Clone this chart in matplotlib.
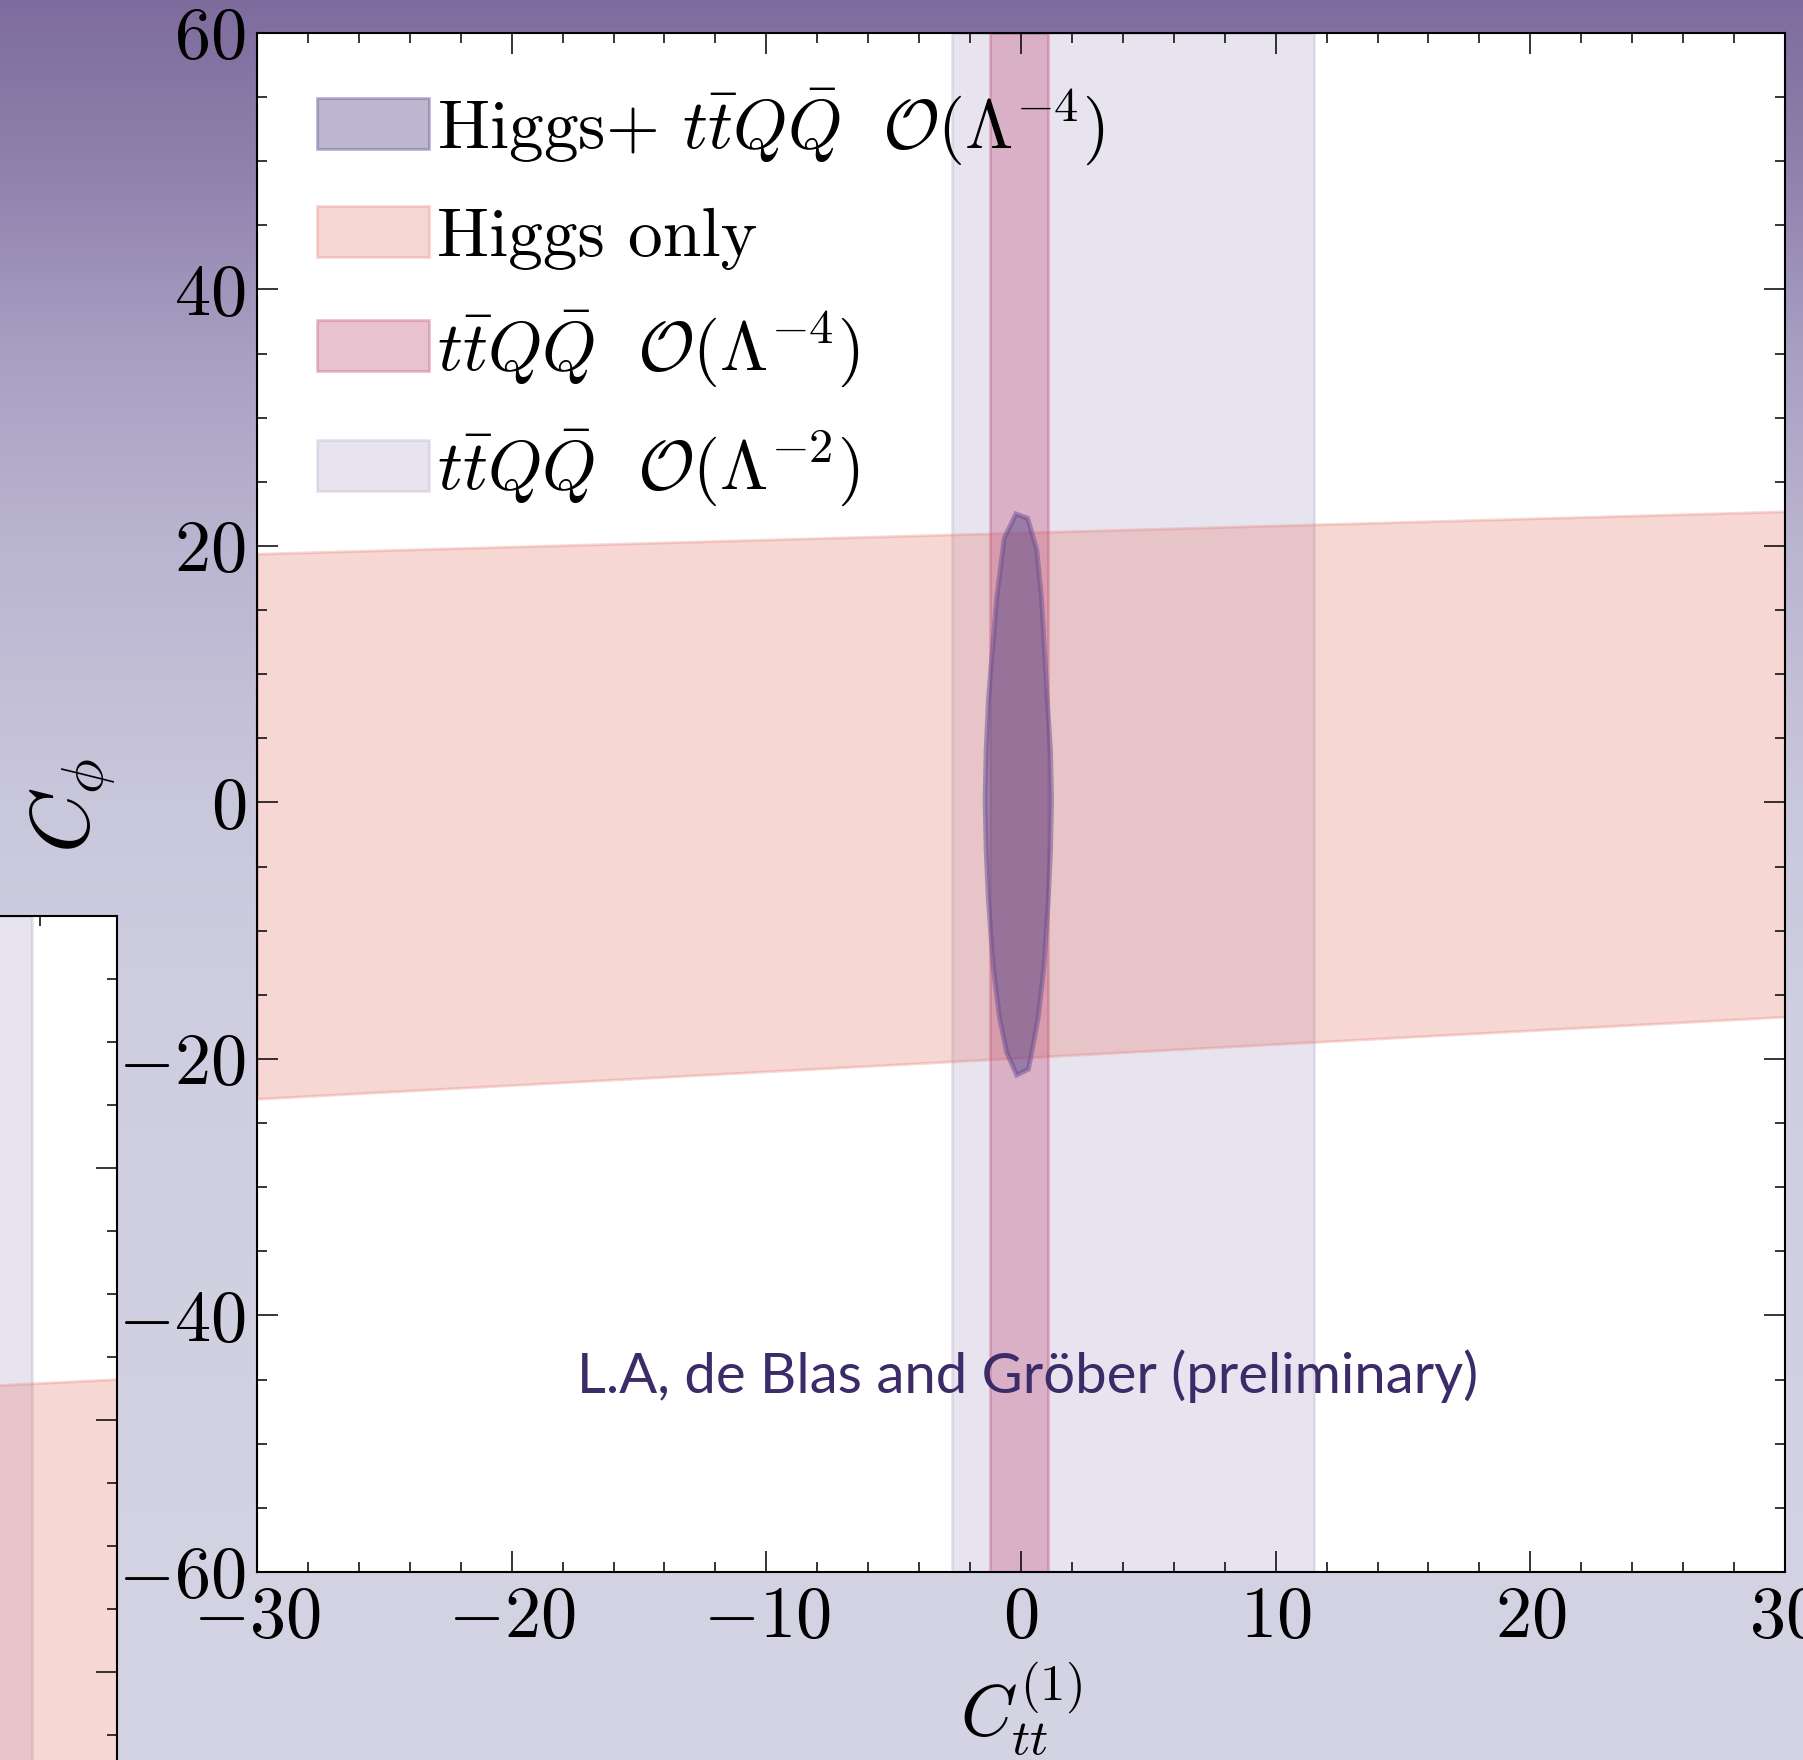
import numpy as np
import matplotlib
matplotlib.use("Agg")
import matplotlib.pyplot as plt
from matplotlib.patches import Patch, Polygon
from matplotlib.ticker import MultipleLocator, FuncFormatter, FixedLocator

plt.rcParams["font.family"] = "serif"
plt.rcParams["font.serif"] = ["cmr10"]
plt.rcParams["mathtext.fontset"] = "cm"
plt.rcParams["axes.unicode_minus"] = False

# band edges
band_x = [-30, 30]
higgs_upper = [19.4, 22.7]
higgs_lower = [-23.1, -16.7]
tt4_range = [-1.2, 1.05]     # ttQQ O(Lambda^-4)
tt2_range = [-2.7, 11.5]     # ttQQ O(Lambda^-2)

# the panel that peeks in at the bottom left of the slide
inset_higgs_upper = [22.15, 23.25]
inset_higgs_lower = [-21.0, -18.0]
inset_tt2_range = [-2.7, 11.5]

# combined fit contour (Higgs + ttQQ)
combo_x = [-0.20, 0.26, 0.62, 0.81, 1.03, 1.16, 1.20, 1.16, 1.07, 0.90, 0.68, 0.42, 0.29, -0.17,
           -0.56, -0.85, -1.09, -1.28, -1.37, -1.41, -1.37, -1.28, -0.96, -0.66]
combo_y = [22.5, 22.16, 19.7, 15.8, 8.0, 4.0, 0.2, -3.7, -7.6, -12.8, -16.7, -19.5, -20.8, -21.25,
           -19.5, -16.7, -12.8, -7.6, -3.7, 0.2, 4.0, 8.0, 15.8, 20.6]

labels = [r"Higgs+ $t\bar{t}Q\bar{Q}\ \ \mathcal{O}(\Lambda^{-4})$",
          "Higgs only",
          r"$t\bar{t}Q\bar{Q}\ \ \mathcal{O}(\Lambda^{-4})$",
          r"$t\bar{t}Q\bar{Q}\ \ \mathcal{O}(\Lambda^{-2})$"]

c_combo = "#5b4a8a"
c_higgs = "#e37c6e"
c_tt4 = "#c0507a"
c_tt2 = "#8f7bb0"

# slide background gradient (pixel rows from top)
bg_rows = [0, 170, 350, 550, 800, 1000, 1760]
bg_cols = ["#7d6c9d", "#8f81ad", "#a89fc2", "#bab5d0", "#c9c7dc", "#cfcee0", "#d4d4e4"]

fig = plt.figure(figsize=(18.03, 17.6), dpi=100)

bg = fig.add_axes([0, 0, 1, 1], zorder=-10)
rgb = np.array([matplotlib.colors.to_rgb(c) for c in bg_cols])
rows = np.arange(1760)
img = np.stack([np.interp(rows, bg_rows, rgb[:, i]) for i in range(3)], axis=-1)[:, None, :]
bg.imshow(img, aspect="auto", extent=(0, 1, 0, 1))
bg.axis("off")


def style_axes(ax):
    ax.set_xlim(-30, 30)
    ax.set_ylim(-60, 60)
    for s in ax.spines.values():
        s.set_linewidth(1.5)
    ax.tick_params(which="both", direction="in", top=True, right=True, width=1.1)
    ax.tick_params(which="major", length=15)
    ax.tick_params(which="minor", length=7.2)


# partially hidden panel on the left of the slide
axl = fig.add_axes([-0.0885, -0.3795, 0.1534, 0.859])
axl.axvspan(inset_tt2_range[0], inset_tt2_range[1], facecolor=c_tt2, edgecolor=c_tt2, alpha=0.2, lw=2)
axl.fill_between(band_x, inset_higgs_lower, inset_higgs_upper, facecolor=c_higgs,
                 edgecolor=c_higgs, alpha=0.3, lw=2)
style_axes(axl)
axl.xaxis.set_major_locator(FixedLocator([]))
axl.xaxis.set_minor_locator(FixedLocator([13.3]))
axl.yaxis.set_major_locator(MultipleLocator(20))
axl.yaxis.set_minor_locator(MultipleLocator(5))
axl.set_xticklabels([])
axl.set_yticklabels([])

# main plot
ax = fig.add_axes([0.14254, 0.10682, 0.84748, 0.87443])
ax.axvspan(tt2_range[0], tt2_range[1], facecolor=c_tt2, edgecolor=c_tt2, alpha=0.2, lw=2)
ax.fill_between(band_x, higgs_lower, higgs_upper, facecolor=c_higgs, edgecolor=c_higgs,
                alpha=0.3, lw=2)
ax.axvspan(tt4_range[0], tt4_range[1], facecolor=c_tt4, edgecolor=c_tt4, alpha=0.35, lw=2)
ax.add_patch(Polygon(np.column_stack([combo_x, combo_y]), closed=True,
                     facecolor=c_combo, edgecolor="#6a4f8e", alpha=0.5, lw=3.5))
style_axes(ax)
ax.xaxis.set_major_locator(MultipleLocator(10))
ax.xaxis.set_minor_locator(MultipleLocator(2))
ax.yaxis.set_major_locator(MultipleLocator(20))
ax.yaxis.set_minor_locator(MultipleLocator(5))
fmt = FuncFormatter(lambda v, p: f"${v:.0f}$")
ax.xaxis.set_major_formatter(fmt)
ax.yaxis.set_major_formatter(fmt)
ax.tick_params(which="major", labelsize=52)
ax.tick_params(axis="x", pad=10)
ax.tick_params(axis="y", pad=8)

ax.set_xlabel(r"$C_{tt}^{(1)}$", fontsize=52, va="center")
ax.xaxis.set_label_coords(0.5, -0.089)
ax.set_ylabel(r"$C_\phi$", fontsize=60, va="center", ha="center")
ax.yaxis.set_label_coords(-0.12, 0.498)

handles = [Patch(facecolor=c_combo, edgecolor=c_combo, alpha=0.4, lw=2),
           Patch(facecolor=c_higgs, edgecolor=c_higgs, alpha=0.3, lw=2),
           Patch(facecolor=c_tt4, edgecolor=c_tt4, alpha=0.35, lw=2),
           Patch(facecolor=c_tt2, edgecolor=c_tt2, alpha=0.2, lw=2)]
ax.legend(handles, labels, loc="upper left", bbox_to_anchor=(0.039, 0.965), frameon=False,
          fontsize=50, handlelength=1.62, handleheight=0.75, handletextpad=0.12,
          labelspacing=0.56, borderpad=0, borderaxespad=0)

ax.text(0.504, 0.1274, "L.A, de Blas and Gröber (preliminary)", transform=ax.transAxes,
        ha="center", va="center", fontsize=40.5, color="#3b2b68", family="Lato")

fig.savefig("out.png", dpi=100)
